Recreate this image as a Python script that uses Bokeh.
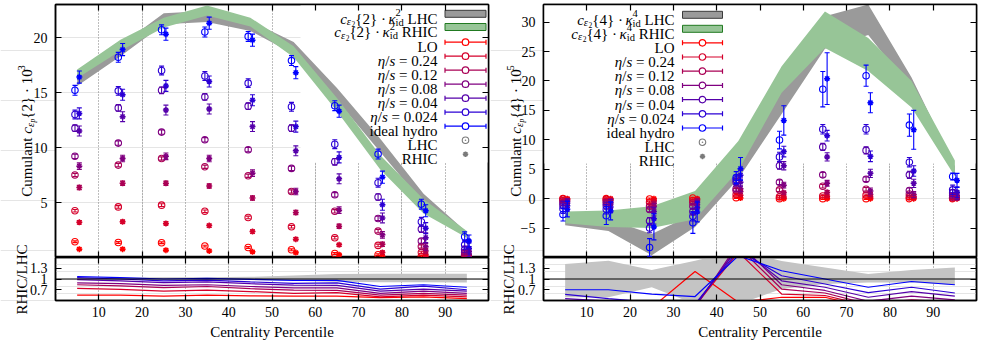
import math
from bokeh.plotting import figure
from bokeh.models import (Range1d, FixedTicker, LinearAxis, Label, Whisker, TeeHead,
                          ColumnDataSource, Span, Grid)
from bokeh.layouts import row, column
from bokeh.embed import file_html
from bokeh.resources import INLINE

FONT = "Liberation Serif"

# ---------------- data ----------------
bins = [5, 15, 25, 35, 45, 55, 65, 75, 85, 95]
x_ticks = [10, 20, 30, 40, 50, 60, 70, 80, 90]
series_labels = ["LO", "0.24", "0.12", "0.08", "0.04", "0.024", "ideal hydro"]
series_colors = ["#ff0000", "#d5002b", "#aa0055", "#800080", "#5500aa", "#2b00d5", "#0000ff"]

c2_yticks = [5, 10, 15, 20]
c4_yticks = [-5, 0, 5, 10, 15, 20, 25, 30]
ratio_yticks = [0.7, 1.0, 1.3]

# c_eps{2} * 10^3, LHC (series order LO ... ideal hydro)
c2_lhc = [
    [1.43, 1.36, 1.34, 1.04, 0.91, 0.70, 0.36, 0.25, 0.12, 0.02],
    [4.25, 4.60, 4.76, 4.20, 3.64, 2.80, 1.80, 1.10, 0.45, 0.12],
    [7.50, 8.40, 9.00, 8.25, 7.43, 6.00, 4.20, 2.40, 1.00, 0.25],
    [9.20, 10.40, 11.40, 10.70, 9.80, 8.10, 5.70, 3.55, 1.50, 0.45],
    [11.76, 13.60, 15.20, 14.60, 13.76, 11.76, 8.70, 5.50, 2.58, 0.73],
    [13.00, 15.15, 17.00, 16.50, 15.85, 13.70, 10.30, 6.80, 3.25, 1.15],
    [15.20, 18.20, 20.70, 20.50, 20.10, 17.90, 13.80, 9.40, 4.85, 1.88],
]
c2_rhic = [
    [0.76, 0.76, 0.67, 0.60, 0.52, 0.45, 0.25, 0.12, 0.06, 0.01],
    [3.20, 3.25, 3.10, 2.90, 2.36, 1.67, 1.15, 0.45, 0.25, 0.06],
    [6.36, 6.76, 6.76, 6.50, 5.40, 4.10, 2.85, 1.20, 0.60, 0.15],
    [8.30, 9.00, 9.20, 9.00, 7.67, 6.00, 4.30, 2.06, 0.97, 0.30],
    [11.50, 12.80, 13.40, 13.50, 11.90, 9.70, 7.15, 3.60, 1.80, 0.55],
    [13.10, 14.80, 15.60, 16.00, 14.30, 11.90, 9.10, 4.80, 2.67, 0.82],
    [16.40, 18.90, 20.30, 21.30, 19.76, 16.80, 13.30, 7.30, 4.25, 1.50],
]
c2_lhc_err = [0.08, 0.12, 0.15, 0.20, 0.30, 0.40, 0.45]
c2_rhic_err = [0.10, 0.15, 0.20, 0.30, 0.45, 0.50, 0.55]

band2_lhc_lo = [15.6, 18.3, 21.2, 21.4, 20.6, 18.5, 14.3, 9.6, 4.9, 1.8]
band2_lhc_hi = [16.6, 19.3, 22.2, 22.4, 21.5, 19.6, 15.4, 10.8, 5.8, 2.3]
band2_rhic_lo = [16.3, 18.8, 20.9, 22.0, 21.0, 18.2, 13.3, 8.0, 4.0, 1.8]
band2_rhic_hi = [17.1, 19.8, 21.8, 22.9, 21.8, 19.2, 14.5, 9.3, 5.3, 2.4]

ratio2 = [
    [0.55, 0.55, 0.52, 0.55, 0.53, 0.52, 0.52, 0.48, 0.50, 0.45],
    [0.74, 0.71, 0.66, 0.69, 0.65, 0.60, 0.62, 0.50, 0.55, 0.50],
    [0.84, 0.81, 0.76, 0.79, 0.73, 0.69, 0.68, 0.55, 0.60, 0.55],
    [0.89, 0.87, 0.82, 0.84, 0.79, 0.75, 0.75, 0.60, 0.66, 0.60],
    [0.98, 0.95, 0.90, 0.92, 0.87, 0.83, 0.82, 0.66, 0.72, 0.66],
    [1.04, 1.00, 0.95, 0.97, 0.92, 0.88, 0.89, 0.72, 0.80, 0.70],
    [1.07, 1.04, 1.00, 1.02, 0.99, 0.96, 0.96, 0.79, 0.84, 0.77],
]
ratio2_band_lo = [0.98, 0.98, 0.98, 0.98, 0.97, 0.95, 0.92, 0.91, 0.91, 0.90]
ratio2_band_hi = [1.04, 1.04, 1.05, 1.05, 1.06, 1.10, 1.14, 1.15, 1.15, 1.15]

# c_eps{4} * 10^5
c4_lhc = [
    [0.00, 0.00, -0.05, 0.10, 0.17, 0.00, 0.00, 0.00, 0.00, 0.00],
    [-0.10, -0.15, -0.60, -0.30, 0.70, 0.30, 0.45, 0.60, 0.30, 0.10],
    [-0.35, -0.45, -1.30, -0.70, 1.40, 1.50, 2.10, 1.60, 0.80, 0.25],
    [-0.70, -0.80, -1.85, -1.30, 1.70, 2.80, 4.05, 3.30, 1.40, 0.50],
    [-1.10, -1.20, -3.80, -2.20, 2.80, 5.60, 8.80, 8.20, 4.05, 0.95],
    [-1.70, -1.80, -5.00, -3.00, 3.20, 7.10, 11.80, 11.80, 6.20, 1.50],
    [-2.70, -2.90, -8.30, -4.10, 3.60, 9.96, 18.60, 20.90, 12.50, 3.77],
]
c4_rhic = [
    [0.00, 0.00, 0.00, 0.00, 0.10, 0.00, 0.00, 0.00, 0.00, 0.00],
    [-0.10, -0.10, -0.30, -0.10, 0.60, 0.30, 0.40, 0.30, 0.15, 0.05],
    [-0.30, -0.30, -0.80, -0.30, 1.20, 1.00, 1.10, 0.70, 0.40, 0.15],
    [-0.50, -0.60, -1.30, -0.60, 1.70, 2.30, 2.60, 1.30, 0.70, 0.30],
    [-0.80, -0.90, -2.20, -1.00, 2.80, 5.60, 7.10, 4.30, 2.60, 0.60],
    [-1.20, -1.40, -3.40, -1.50, 4.00, 8.00, 10.70, 7.20, 4.70, 1.10],
    [-1.80, -2.10, -4.80, -2.25, 5.10, 13.30, 20.40, 16.30, 11.70, 3.10],
]
c4_lhc_err = [0.15, 0.20, 0.30, 0.40, 0.60, 0.80]
c4_rhic_err = [0.15, 0.20, 0.30, 0.50, 0.70, 0.90]
c4_lhc_err_ideal = [1.1, 1.5, 1.5, 1.8, 1.0, 1.5, 3.0, 1.8, 1.9, 0.6]
c4_rhic_err_ideal = [1.3, 1.5, 2.2, 1.7, 1.9, 2.5, 4.4, 1.7, 3.3, 1.2]

band4_lhc_lo = [-4.5, -5.5, -9.6, -4.8, 3.4, 14.4, 25.5, 27.8, 18.5, 4.3]
band4_lhc_hi = [-3.0, -3.5, -6.0, -2.5, 7.5, 19.0, 31.0, 33.0, 20.6, 5.5]
band4_rhic_lo = [-4.2, -4.8, -5.0, -3.5, 4.8, 18.0, 25.6, 21.7, 15.5, 3.8]
band4_rhic_hi = [-2.2, -2.0, -1.3, 1.3, 9.8, 22.5, 31.8, 27.3, 20.0, 6.5]

ratio4 = [
    [0.10, 0.10, 0.20, 1.21, 0.35, 0.49, 0.49, 0.20, 0.30, 0.25],
    [0.20, 0.20, 0.20, 0.25, 1.75, 0.58, 0.54, 0.25, 0.35, 0.30],
    [0.30, 0.25, 0.20, 0.25, 1.90, 0.72, 0.61, 0.30, 0.42, 0.35],
    [0.35, 0.30, 0.25, 0.20, 2.00, 0.84, 0.68, 0.38, 0.52, 0.42],
    [0.45, 0.38, 0.30, 0.25, 1.90, 0.95, 0.77, 0.49, 0.65, 0.52],
    [0.57, 0.45, 0.35, 0.30, 1.80, 1.09, 0.86, 0.62, 0.77, 0.61],
    [0.70, 0.70, 0.58, 0.51, 1.65, 1.23, 1.00, 0.77, 0.93, 0.84],
]
ratio4_band_lo = [0.49, 0.49, 0.77, 0.30, 0.30, 0.72, 0.86, 0.90, 0.90, 0.83]
ratio4_band_hi = [1.42, 1.51, 1.25, 1.51, 1.80, 1.50, 1.32, 1.14, 1.25, 1.32]

# ---------------- layout constants ----------------
FW, FH, RH = 433, 253, 43
FT, RT = 4, 257
PAGE_H = 348
GRAY_BAND, GREEN_BAND = "#9a9a9a", "#97c597"

W_R = {' ': 250, '{': 480, '}': 480, '·': 250, '.': 250, '=': 564, '/': 278,
       'C': 667, 'u': 500, 'm': 778, 'l': 278, 'a': 444, 'n': 500, 't': 278,
       'L': 611, 'H': 722, 'R': 667, 'I': 333, 'O': 722, 'i': 278, 'd': 500,
       'e': 444, 'h': 500, 'y': 500, 'r': 333, 'o': 500}
W_I = {'c': 444, 's': 389, 'η': 500, 'κ': 480, 'ε': 440, 'p': 500}


def tw(s, size, italic=False):
    tbl = W_I if italic else W_R
    return sum(tbl.get(ch, 500) for ch in s) * size / 1000.0


def layout_pieces(pieces):
    items, off = [], 0.0
    for pc in pieces:
        if pc[0] == "stack":
            _, sup, sub, size = pc
            items.append((sup, size, False, off, -6.0))
            items.append((sub, size, False, off, 3.5))
            off += max(tw(sup, size), tw(sub, size))
        else:
            t, size, it, dy = pc
            lead = len(t) - len(t.lstrip(" "))
            items.append((t.strip(" "), size, it, off + lead * 0.25 * size, dy))
            off += tw(t, size, it)
    return items, off


def mapper(fl, ft, fw, fh, xr, yr):
    def m(px, py):
        return (xr[0] + (px - fl) / fw * (xr[1] - xr[0]),
                yr[1] - (py - ft) / fh * (yr[1] - yr[0]))
    return m


def put(p, m, px, py, text, size, italic=False, angle=0.0, align="left"):
    x, y = m(px, py)
    p.add_layout(Label(x=x, y=y, text=text, text_font=FONT, text_font_size=f"{size}px",
                       text_font_style="italic" if italic else "normal", text_color="black",
                       text_align=align, text_baseline="alphabetic", angle=angle))


def put_h(p, m, pieces, x_right, base):
    items, total = layout_pieces(pieces)
    x0 = x_right - total
    for t, s, it, off, dy in items:
        put(p, m, x0 + off, base + dy, t, s, it)


def put_v(p, m, pieces, base_x, yc):
    items, total = layout_pieces(pieces)
    y0 = yc + total / 2.0
    for t, s, it, off, dy in items:
        put(p, m, base_x + dy, y0 - off, t, s, it, angle=math.pi / 2)


def make_fig(w, h, bl, br, bt, bb, yr):
    p = figure(width=w, height=h, x_range=Range1d(0, 100), y_range=Range1d(*yr),
               x_axis_location=None, y_axis_location=None,
               output_backend="svg", toolbar_location=None,
               min_border_left=bl, min_border_right=br, min_border_top=bt, min_border_bottom=bb)
    p.outline_line_color = "black"
    p.outline_line_width = 1.5
    p.border_fill_color = None
    p.background_fill_color = "white"
    p.add_layout(Grid(dimension=0, ticker=FixedTicker(ticks=x_ticks), grid_line_color="#7a7a7a",
                      grid_line_dash="1 2", grid_line_width=1))
    return p


def add_axis(p, place, ticks, labels=True, overrides=None, standoff=8):
    ax = LinearAxis(ticker=FixedTicker(ticks=ticks))
    ax.major_tick_in = 6
    ax.major_tick_out = 0
    ax.minor_tick_in = 0
    ax.minor_tick_out = 0
    ax.axis_line_color = "black"
    ax.axis_line_width = 1.5
    ax.major_tick_line_color = "black"
    ax.major_tick_line_width = 1.2
    if labels:
        ax.major_label_text_font = FONT
        ax.major_label_text_font_size = "14px"
        ax.major_label_text_color = "black"
        ax.major_label_standoff = standoff
        if overrides:
            ax.major_label_overrides = overrides
    else:
        ax.major_label_text_font_size = "0px"
        ax.major_label_text_color = None
        ax.major_label_standoff = 0
    p.add_layout(ax, place)
    return ax


def draw_points(p, offset, values, errs, marker, size, lw):
    for vals, e, col in zip(values, errs, series_colors):
        src = ColumnDataSource(dict(x=[b + offset for b in bins], y=vals,
                                    lo=[v - d for v, d in zip(vals, e)],
                                    hi=[v + d for v, d in zip(vals, e)]))
        p.add_layout(Whisker(source=src, base="x", lower="lo", upper="hi", line_color=col,
                             line_width=1.1, level="annotation",
                             lower_head=TeeHead(size=5, line_color=col, line_width=1.1),
                             upper_head=TeeHead(size=5, line_color=col, line_width=1.1)))
        p.scatter("x", "y", source=src, marker=marker, size=size, line_color=col,
                  fill_color=None, line_width=lw)


def make_strip(width, offset_x):
    s = figure(width=width, height=PAGE_H, x_range=Range1d(0, width), y_range=Range1d(PAGE_H, 0),
               x_axis_location=None, y_axis_location=None, output_backend="svg",
               toolbar_location=None, min_border=0, min_border_left=0, min_border_right=0,
               min_border_top=0, min_border_bottom=0)
    s.outline_line_color = None
    s.background_fill_color = None
    s.border_fill_color = None
    s.xgrid.visible = False if s.xgrid else None
    ms = lambda px, py: (px - offset_x, py)
    return s, ms


def build_side(cfg):
    fl = cfg["frame_left"]
    bl, br = cfg["bl"], cfg["br"]
    w = bl + FW + br
    yr = cfg["yrange"]
    main = make_fig(w, FT + FH, bl, br, FT, 0, yr)
    m = mapper(fl, FT, FW, FH, (0, 100), yr)
    add_axis(main, "left", cfg["yticks"], True, cfg.get("yover"))
    add_axis(main, "right", cfg["yticks"], False)
    add_axis(main, "above", x_ticks, False)
    add_axis(main, "below", x_ticks, False)

    # white key box hiding the grid
    bx0, by0 = m(cfg["box_left"], cfg["box_bottom"])
    main.quad(left=[bx0], right=[100], bottom=[by0], top=[yr[1]], fill_color="white", line_color=None)

    # bands
    main.varea(x=bins, y1=cfg["band_lhc"][0], y2=cfg["band_lhc"][1], fill_color=GRAY_BAND)
    main.varea(x=bins, y1=cfg["band_rhic"][0], y2=cfg["band_rhic"][1], fill_color=GREEN_BAND)

    # points
    draw_points(main, -0.5, cfg["lhc"], cfg["lhc_err"], "circle", 6.5, 1.1)
    draw_points(main, 0.5, cfg["rhic"], cfg["rhic_err"], "asterisk", 6, 1.5)

    # key
    tr, sx0, sx1 = cfg["key_text_right"], cfg["key_x0"], cfg["key_x1"]
    sxc = (sx0 + sx1) / 2.0
    centers = cfg["row_centers"]
    k = cfg["order"]
    band_rows = [("LHC", GRAY_BAND, "#3a3a3a"), ("RHIC", GREEN_BAND, "#217a21")]
    for r, (name, fc, lc) in enumerate(band_rows):
        cy = centers[r]
        pieces = [("c", 15, True, 0), ("ε", 10.5, True, 3), ("2", 7.5, False, 5.5),
                  ("{" + k + "} · ", 15, False, 0), ("κ", 15, True, 0),
                  ("stack", k, "id", 10.5), (" " + name, 15, False, 0)]
        put_h(main, m, pieces, tr, cy + 5)
        x0, y0 = m(sx0, cy - 3.5)
        x1, y1 = m(sx1, cy + 3.5)
        main.quad(left=[x0], right=[x1], top=[y0], bottom=[y1], fill_color=fc,
                  line_color=lc, line_width=1)
    for i, (lab, col) in enumerate(zip(series_labels, series_colors)):
        cy = centers[2 + i]
        if lab in ("LO", "ideal hydro"):
            pieces = [(lab, 15, False, 0)]
        else:
            pieces = [("η", 15, True, 0), ("/", 15, False, 0), ("s", 15, True, 0),
                      (" = " + lab, 15, False, 0)]
        put_h(main, m, pieces, tr, cy + 5)
        xa, ya = m(sx0, cy)
        xb, _ = m(sx1, cy)
        _, yt = m(sx0, cy - 2.5)
        _, yb = m(sx0, cy + 2.5)
        xc, _ = m(sxc, cy)
        main.segment(x0=[xa, xa, xb], y0=[ya, yb, yb], x1=[xb, xa, xb], y1=[ya, yt, yt],
                     line_color=col, line_width=1.2)
        main.scatter(x=[xc], y=[ya], marker="circle", size=6.5, line_color=col,
                     fill_color="white", line_width=1.2)
    cy = centers[9]
    put_h(main, m, [("LHC", 15, False, 0)], tr, cy + 5)
    xc, yc = m(sxc, cy)
    main.scatter(x=[xc], y=[yc], marker="circle_dot", size=6.5, line_color="#7a7a7a",
                 fill_color=None, line_width=1.1)
    cy = centers[10]
    put_h(main, m, [("RHIC", 15, False, 0)], tr, cy + 5)
    xc, yc = m(sxc, cy)
    main.scatter(x=[xc], y=[yc], marker="asterisk", size=5.5, line_color="#7a7a7a", line_width=1.5)

    # ratio panel
    ratio = make_fig(w, RH + 48, bl, br, 0, 48, (0.4, 1.6))
    add_axis(ratio, "left", ratio_yticks, True, {0.7: "0.7", 1.0: "1", 1.3: "1.3"})
    add_axis(ratio, "right", ratio_yticks, False)
    add_axis(ratio, "above", x_ticks, False)
    bax = add_axis(ratio, "below", x_ticks, True, None, standoff=6)
    bax.axis_label = "Centrality Percentile"
    bax.axis_label_text_font = FONT
    bax.axis_label_text_font_size = "15px"
    bax.axis_label_text_font_style = "normal"
    bax.axis_label_text_color = "black"
    bax.axis_label_standoff = 4
    ratio.varea(x=bins, y1=cfg["rband"][0], y2=cfg["rband"][1], fill_color="#c4c4c4")
    for vals, col in zip(cfg["ratio"], series_colors):
        ratio.line(bins, vals, line_color=col, line_width=1.2)
    ratio.add_layout(Span(location=1.0, dimension="width", line_color="black", line_width=1.2))

    # strip with the rotated axis titles (lies under the panel borders)
    strip, ms = make_strip(bl, cfg["page_x"])
    ylab = [("Cumulant ", 15, False, 0), ("c", 15, True, 0), ("ε", 10.5, True, 3),
            ("p", 7.5, True, 5.5), ("{" + k + "} · 10", 15, False, 0),
            (cfg["exp"], 10.5, False, -6)]
    put_v(strip, ms, ylab, cfg["ylab_x"], FT + FH / 2.0)
    put(strip, ms, cfg["rlab_x"], RT + RH / 2.0 + 0.5, "RHIC/LHC", 15, angle=math.pi / 2,
        align="center")

    col = column(main, ratio)
    col.margin = (0, 0, 0, -bl)
    return strip, col


sL, cL = build_side(dict(
    page_x=0, frame_left=55, bl=55, br=2, yrange=(0, 23), yticks=c2_yticks, yover=None,
    box_left=300, box_bottom=162,
    band_lhc=(band2_lhc_lo, band2_lhc_hi), band_rhic=(band2_rhic_lo, band2_rhic_hi),
    lhc=c2_lhc, rhic=c2_rhic,
    lhc_err=[[e] * len(bins) for e in c2_lhc_err],
    rhic_err=[[e] * len(bins) for e in c2_rhic_err],
    key_text_right=437, key_x0=444.5, key_x1=485.5,
    row_centers=[13.3, 26.5] + [41.7 + 14.0 * j for j in range(9)],
    order="2", exp="3", ylab_x=26.5,
    rband=(ratio2_band_lo, ratio2_band_hi), ratio=ratio2, rlab_x=21.5,
))

sR, cR = build_side(dict(
    page_x=490, frame_left=543, bl=53, br=10, yrange=(-10, 33), yticks=c4_yticks, yover={-5: "−5"},
    box_left=543, box_bottom=163,
    band_lhc=(band4_lhc_lo, band4_lhc_hi), band_rhic=(band4_rhic_lo, band4_rhic_hi),
    lhc=c4_lhc, rhic=c4_rhic,
    lhc_err=[[e] * len(bins) for e in c4_lhc_err] + [c4_lhc_err_ideal],
    rhic_err=[[e] * len(bins) for e in c4_rhic_err] + [c4_rhic_err_ideal],
    key_text_right=674, key_x0=682, key_x1=722,
    row_centers=[14.3, 28.3] + [42.3 + 14.2 * j for j in range(9)],
    order="4", exp="5", ylab_x=515.5,
    rband=(ratio4_band_lo, ratio4_band_hi), ratio=ratio4, rlab_x=508,
))

page = row(sL, cL, sR, cR)
open("out.html", "w").write(file_html(page, INLINE))
